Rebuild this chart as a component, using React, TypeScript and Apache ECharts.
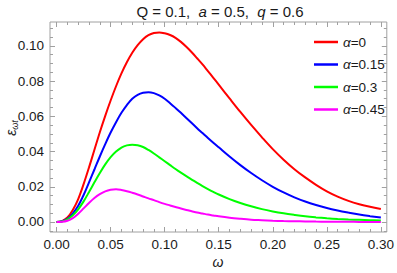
import React, { useEffect, useRef } from "react";
import * as echarts from "echarts";

const omega = [0, 0.005, 0.01, 0.015, 0.02, 0.025, 0.03, 0.035, 0.04, 0.045, 0.05, 0.055, 0.06, 0.065, 0.07, 0.075, 0.08, 0.085, 0.09, 0.095, 0.1, 0.105, 0.11, 0.115, 0.12, 0.125, 0.13, 0.135, 0.14, 0.145, 0.15, 0.16, 0.17, 0.18, 0.19, 0.2, 0.21, 0.22, 0.23, 0.24, 0.25, 0.26, 0.27, 0.28, 0.29, 0.3];
const alphaNames = ["α=0", "α=0.15", "α=0.3", "α=0.45"];
const epsA0 = [0, 0.0005, 0.0025, 0.0068, 0.013, 0.0215, 0.031, 0.041, 0.051, 0.0603, 0.069, 0.0771, 0.0844, 0.0907, 0.0961, 0.1004, 0.1038, 0.1061, 0.1073, 0.1077, 0.1072, 0.1062, 0.1046, 0.1023, 0.0995, 0.0964, 0.093, 0.0895, 0.0857, 0.0819, 0.078, 0.0702, 0.0625, 0.0551, 0.0481, 0.0414, 0.0354, 0.03, 0.0253, 0.0211, 0.0174, 0.0144, 0.012, 0.0101, 0.0086, 0.0074];
const epsA15 = [0, 0.0004, 0.0018, 0.0048, 0.0092, 0.0153, 0.0225, 0.0298, 0.0372, 0.0442, 0.0508, 0.0567, 0.062, 0.0664, 0.07, 0.0722, 0.0734, 0.0737, 0.0732, 0.0719, 0.07, 0.0675, 0.0648, 0.062, 0.0591, 0.0562, 0.0533, 0.0505, 0.0477, 0.045, 0.0424, 0.0372, 0.0323, 0.0278, 0.0237, 0.02, 0.0168, 0.014, 0.0116, 0.0096, 0.0079, 0.0065, 0.0053, 0.0042, 0.0033, 0.0025];
const epsA30 = [0, 0.0003, 0.0015, 0.0038, 0.0072, 0.0117, 0.017, 0.0225, 0.0278, 0.0327, 0.0368, 0.04, 0.0423, 0.0435, 0.0439, 0.0436, 0.0426, 0.0409, 0.0389, 0.0367, 0.0345, 0.0323, 0.0301, 0.028, 0.026, 0.0241, 0.0222, 0.0204, 0.0187, 0.0171, 0.0156, 0.013, 0.0108, 0.0089, 0.0073, 0.006, 0.0049, 0.004, 0.0032, 0.0026, 0.0021, 0.0017, 0.0014, 0.0012, 0.001, 0.0008];
const epsA45 = [0, 0.0001, 0.0007, 0.0022, 0.0047, 0.0077, 0.0108, 0.0136, 0.0158, 0.0174, 0.0183, 0.0186, 0.0182, 0.0175, 0.0166, 0.0156, 0.0145, 0.0134, 0.0124, 0.0113, 0.0103, 0.0094, 0.0085, 0.0076, 0.0068, 0.0061, 0.0054, 0.0048, 0.0042, 0.0037, 0.0032, 0.0024, 0.0018, 0.0013, 0.001, 0.0007, 0.0005, 0.0004, 0.0003, 0.0002, 0.00015, 0.0001, 0.0001, 0.00005, 0.00003, 0.00002];
const seriesColors = ["#ff0000", "#0000ff", "#00ff00", "#ff00ff"];

const xMajor = [0, 0.05, 0.1, 0.15, 0.2, 0.25, 0.3];
const xMinor = [0.01, 0.02, 0.03, 0.04, 0.06, 0.07, 0.08, 0.09, 0.11, 0.12, 0.13, 0.14, 0.16, 0.17, 0.18, 0.19, 0.21, 0.22, 0.23, 0.24, 0.26, 0.27, 0.28, 0.29];
const yMajor = [0, 0.02, 0.04, 0.06, 0.08, 0.1];
const yMinor = [-0.005, 0.005, 0.01, 0.015, 0.025, 0.03, 0.035, 0.045, 0.05, 0.055, 0.065, 0.07, 0.075, 0.085, 0.09, 0.095, 0.105, 0.11];

const X_MIN = -0.0061;
const X_MAX = 0.3055;
const Y_MIN = -0.0057;
const Y_MAX = 0.1136;

const FONT = "'Liberation Sans', Arial, sans-serif";
const FRAME = "#a0a0a0";
const TEXT = "#1a1a1a";

function xAxisDef(position: string, ticks: number[], len: number, labels: boolean) {
  return {
    type: "value",
    position,
    min: X_MIN,
    max: X_MAX,
    axisLine: { show: false, onZero: false },
    splitLine: { show: false },
    axisTick: { show: true, inside: true, length: len, customValues: ticks, lineStyle: { color: FRAME, width: 1 } },
    axisLabel: labels
      ? { show: true, customValues: ticks, formatter: (v: number) => v.toFixed(2), color: TEXT, fontSize: 13.5, fontFamily: FONT, margin: 5 }
      : { show: false },
  };
}

function yAxisDef(position: string, ticks: number[], len: number, labels: boolean) {
  return {
    type: "value",
    position,
    min: Y_MIN,
    max: Y_MAX,
    axisLine: { show: false, onZero: false },
    splitLine: { show: false },
    axisTick: { show: true, inside: true, length: len, customValues: ticks, lineStyle: { color: FRAME, width: 1 } },
    axisLabel: labels
      ? { show: true, customValues: ticks, formatter: (v: number) => v.toFixed(2), color: TEXT, fontSize: 13.5, fontFamily: FONT, margin: 6 }
      : { show: false },
  };
}

export default function App() {
  const ref = useRef<HTMLDivElement>(null);
  useEffect(() => {
    if (!ref.current) return;
    const chart = echarts.init(ref.current, null, { renderer: "svg" });
    const allEps = [epsA0, epsA15, epsA30, epsA45];
    chart.setOption({
      animation: false,
      backgroundColor: "#ffffff",
      grid: { left: 50, right: 8, top: 22, bottom: 41, show: true, borderColor: FRAME, borderWidth: 1, backgroundColor: "transparent" },
      xAxis: [
        xAxisDef("bottom", xMajor, 5, true),
        xAxisDef("bottom", xMinor, 3, false),
        xAxisDef("top", xMajor, 5, false),
        xAxisDef("top", xMinor, 3, false),
      ],
      yAxis: [
        yAxisDef("left", yMajor, 5, true),
        yAxisDef("left", yMinor, 3, false),
        yAxisDef("right", yMajor, 5, false),
        yAxisDef("right", yMinor, 3, false),
      ],
      legend: {
        data: alphaNames,
        orient: "vertical",
        left: 309,
        top: 30,
        itemWidth: 24,
        itemHeight: 2.5,
        itemGap: 8.5,
        icon: "rect",
        formatter: (name: string) => "{i|α}" + name.slice(1),
        textStyle: {
          fontSize: 13.5,
          color: TEXT,
          fontFamily: FONT,
          lineHeight: 14,
          rich: { i: { fontStyle: "italic", fontSize: 13.5, fontFamily: FONT, color: TEXT } },
        },
      },
      graphic: [
        {
          type: "text",
          x: 220,
          y: 11,
          style: {
            text: "Q = 0.1,  {i|a} = 0.5,  {i|q} = 0.6",
            fontSize: 15,
            fontFamily: FONT,
            fill: TEXT,
            align: "center",
            verticalAlign: "middle",
            rich: { i: { fontStyle: "italic", fontSize: 15, fontFamily: FONT, fill: TEXT } },
          },
        },
        {
          type: "text",
          x: 11,
          y: 128,
          rotation: Math.PI / 2,
          style: {
            text: "{e|ε}{s|ωt}",
            fontFamily: FONT,
            fill: TEXT,
            align: "center",
            verticalAlign: "middle",
            rich: {
              e: { fontSize: 14, fontStyle: "italic", fontFamily: FONT, fill: TEXT, lineHeight: 16 },
              s: { fontSize: 9, fontStyle: "italic", fontFamily: FONT, fill: TEXT, lineHeight: 16, verticalAlign: "bottom", padding: [6, 0, 0, 0] },
            },
          },
        },
        {
          type: "text",
          x: 218,
          y: 262,
          style: {
            text: "ω",
            fontSize: 14,
            fontStyle: "italic",
            fontFamily: FONT,
            fill: TEXT,
            align: "center",
            verticalAlign: "middle",
          },
        },
      ],
      series: allEps.map((eps, k) => ({
        name: alphaNames[k],
        type: "line",
        xAxisIndex: 0,
        yAxisIndex: 0,
        data: omega.map((w, i) => [w, eps[i]]),
        showSymbol: false,
        symbol: "none",
        smooth: 0.35,
        color: seriesColors[k],
        itemStyle: { color: seriesColors[k] },
        lineStyle: { color: seriesColors[k], width: 2 },
      })),
    });
    return () => chart.dispose();
  }, []);
  return <div ref={ref} style={{ position: "fixed", left: 0, top: 0, width: 397, height: 273 }} />;
}
